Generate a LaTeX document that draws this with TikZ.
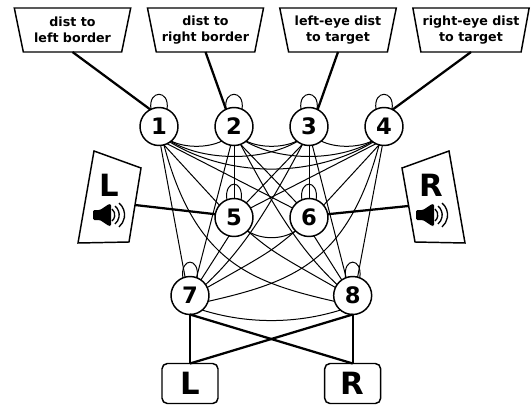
\documentclass[tikz,border=0pt]{standalone}
\usepackage{fontspec}
\setmainfont{DejaVu Sans}
\usetikzlibrary{positioning,shapes.geometric}

\newcommand{\lift}[1]{\raisebox{1.5pt}{#1}}

\tikzset{
  unit/.style={circle, draw, line width=1.1pt, outer sep=0pt, fill=white, minimum size=28.5pt, inner sep=0pt, font=\fontsize{17}{17}\selectfont\bfseries},
  sensor/.style={trapezium, shape border rotate=180, trapezium angle=74.7, trapezium stretches=true, draw, line width=1.1pt, outer sep=0pt, minimum width=87.75pt, minimum height=33pt, inner sep=0pt, align=center, font=\fontsize{9.5}{12}\selectfont\bfseries},
  motor/.style={draw, rounded corners=4pt, line width=1.1pt, outer sep=0pt, minimum width=42pt, minimum height=30pt, inner sep=0pt, font=\fontsize{23}{23}\selectfont\bfseries},
  letter/.style={inner sep=0pt, font=\fontsize{23}{23}\selectfont\bfseries},
  wire/.style={line width=0.75pt},
  link/.style={line width=1.7pt},
}

\begin{document}
\begin{tikzpicture}[x=0.75pt, y=-0.75pt, node distance=27.75pt]
  \useasboundingbox (0,0) rectangle (531,407);

  % Units in the upper row
  \node[unit] at (159,126.5) (n1) {1};
  \node[unit, right=of n1] (n2) {2};
  \node[unit, right=of n2] (n3) {3};
  \node[unit, right=of n3] (n4) {4};

  % Units in the middle and lower rows
  \node[unit, below=39.75pt of n2] (n5) {5};
  \node[unit, right=of n5] (n6) {6};
  \node[unit, below=30pt of n5, xshift=-33pt] (n7) {7};
  \node[unit, right=93.5pt of n7] (n8) {8};

  % Sensors
  \node[sensor] at (72.5,30) (s1) {dist to\\left border};
  \node[sensor] at (205.5,30) (s2) {\lift{dist to}\\\lift{right border}};
  \node[sensor] at (338,30) (s3) {\lift{left-eye dist}\\\lift{to target}};
  \node[sensor] at (471,30) (s4) {\lift{right-eye dist}\\\lift{to target}};

  % Outputs
  \node[motor, below=36.75pt of n7] (mL) {L};
  \node[motor, below=36.75pt of n8] (mR) {R};

  % Speakers
  \draw[line width=1.1pt] (94,151) -- (141,168) -- (129,242) -- (78,243) -- cycle;
  \draw[line width=1.1pt] (449,151) -- (402,168) -- (415,242) -- (465,243) -- cycle;
  \node[letter] at (109.5,185) (hL) {L};
  \node[letter] at (431.5,185) (hR) {R};
  \coordinate (cL) at (135,205);
  \coordinate (cR) at (408.5,206);
  \foreach \sx in {111,434} {
    \begin{scope}[shift={(\sx,215)}]
      \fill[rounded corners=1pt] (-18,-5) -- (-11,-5) -- (-2,-11) -- (0,-11) -- (0,11) -- (-2,11) -- (-11,5) -- (-18,5) -- cycle;
      \draw[line width=1pt] (1,-6) arc (-50:50:7.8);
      \draw[line width=1pt] (4,-9) arc (-50:50:11.7);
      \draw[line width=1pt] (8,-12) arc (-50:50:15.6);
    \end{scope}
  }

  % Self connections
  \foreach \u in {n1,n2,n3,n4}
    \draw[wire] (\u.115) .. controls +(-3,-20) and +(3,-20) .. (\u.65);
  \foreach \u in {n5,n6,n7,n8}
    \draw[wire] (\u.112) .. controls +(-3,-21) and +(3,-21) .. (\u.68);

  % Connections within a row
  \draw[wire] (n1.-50) .. controls +(14,7) and +(-14,7) .. (n2.-130);
  \draw[wire] (n2.-50) .. controls +(14,7) and +(-14,7) .. (n3.-130);
  \draw[wire] (n3.-50) .. controls +(14,7) and +(-14,7) .. (n4.-130);
  \draw[wire] (n1.-52) .. controls +(35,20) and +(-35,20) .. (n3.-128);
  \draw[wire] (n2.-52) .. controls +(35,20) and +(-35,20) .. (n4.-128);
  \draw[wire] (n1.-55) .. controls +(60,36) and +(-60,36) .. (n4.-125);
  \draw[wire] (n5.-45) .. controls +(14,9) and +(-14,9) .. (n6.-135);
  \draw[wire] (n7.-50) .. controls +(45,14) and +(-45,14) .. (n8.-130);

  % Connections between rows that bend
  \draw[wire] (n1.-75) .. controls (195,262) and (250,282) .. (n8.198);
  \draw[wire] (n4.-105) .. controls (348,262) and (293,282) .. (n7.-18);
  \draw[wire] (n3.-110) .. controls (270,205) and (245,248) .. (n7.35);
  \draw[wire] (n2.-70) .. controls (273,205) and (298,248) .. (n8.145);
  \draw[wire] (n6.-135) .. controls (270,252) .. (n7.25);
  \draw[wire] (n5.-45) .. controls (273,252) .. (n8.155);

  % Connections between rows that run straight
  \draw[wire] (n1.-85) -- (n7.105);
  \draw[wire] (n1.-75) -- (n5.140);
  \draw[wire] (n1.-65) -- (n6.150);
  \draw[wire] (n2.-90) -- (n5.90);
  \draw[wire] (n2.-70) -- (n6.130);
  \draw[wire] (n2.-100) -- (n7.70);
  \draw[wire] (n3.-110) -- (n5.50);
  \draw[wire] (n3.-90) -- (n6.90);
  \draw[wire] (n3.-80) -- (n8.110);
  \draw[wire] (n4.-115) -- (n5.30);
  \draw[wire] (n4.-105) -- (n6.40);
  \draw[wire] (n4.-95) -- (n8.75);
  \draw[wire] (n5.-105) -- (n7.55);
  \draw[wire] (n6.-75) -- (n8.125);

  % Input connections
  \draw[link] (s1.south) -- (n1.117);
  \draw[link] (s2.south) -- (n2.115);
  \draw[link] (s3.south) -- (n3.63);
  \draw[link] (s4.south) -- (n4.63);
  \draw[link] (cL) -- (n5.170);
  \draw[link] (cR) -- (n6.10);

  % Output connections
  \draw[link] (n7.south) -- (n7.south |- mL.north);
  \draw[link] (n7.south) -- (n8.south |- mR.north);
  \draw[link] (n8.south) -- (n7.south |- mL.north);
  \draw[link] (n8.south) -- (n8.south |- mR.north);
\end{tikzpicture}
\end{document}
